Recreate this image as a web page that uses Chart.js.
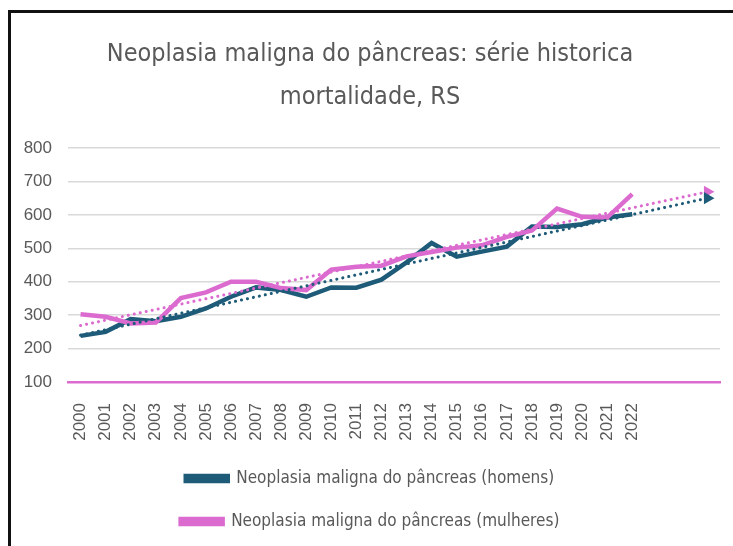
<!DOCTYPE html>
<html>
<head>
<meta charset="utf-8">
<script src="https://cdn.jsdelivr.net/npm/chart.js@4.4.1/dist/chart.umd.min.js"></script>
<style>
  html,body{margin:0;padding:0;background:#fff;overflow:hidden;}
  #frame{position:absolute;left:8px;top:10px;width:800px;height:600px;border:3px solid #111;box-sizing:border-box;}
  #wrap{position:absolute;left:0;top:0;width:733px;height:546px;}
</style>
</head>
<body>
<div id="frame"></div>
<div id="wrap"><canvas id="myChart"></canvas></div>
<script>
const years=['2000','2001','2002','2003','2004','2005','2006','2007','2008','2009','2010','2011','2012','2013','2014','2015','2016','2017','2018','2019','2020','2021','2022','','',''];
const homens=[238,250,288,282,295,320,355,383,375,355,383,382,406,458,516,475,490,505,565,564,572,592,602];
const mulheres=[303,295,275,278,351,368,400,400,381,375,436,445,448,476,489,502,509,534,553,619,594,592,662];
// trend line ends (2000 and 2025)
const trendHomens=[240,650];
const trendMulheres=[269,669];
const yTicks=[100,200,300,400,500,600,700,800];

const teal='#1d5b78';
const pink='#dc6bd0';
const grey='#595959';
const titleFont="'Liberation Sans Narrow','DejaVu Sans Condensed',sans-serif";

let trendData=(ends)=>{
    let d=years.map(()=>null);
    d[0]=ends[0];
    d[d.length-1]=ends[1];
    return d;
}
let lastOnly=(size)=>(c)=>c.dataIndex===years.length-1?size:0;

window.addEventListener('load',()=>{
    const ctx=document.getElementById('myChart');
    new Chart(ctx,{
      type:'line',
      data:{
        labels:years,
        datasets:[{
          label:'Neoplasia maligna do pâncreas (homens)',
          data:homens,
          borderColor:teal,
          backgroundColor:teal,
          borderWidth:4.5,
          pointRadius:0,
          tension:0,
          order:2
        },{
          label:'Neoplasia maligna do pâncreas (mulheres)',
          data:mulheres,
          borderColor:pink,
          backgroundColor:pink,
          borderWidth:4.5,
          pointRadius:0,
          tension:0,
          order:1
        },{
          label:'trend homens',
          data:trendData(trendHomens),
          borderColor:teal,
          backgroundColor:teal,
          borderWidth:3,
          borderDash:[0.1,6],
          borderCapStyle:'round',
          spanGaps:true,
          pointStyle:'triangle',
          rotation:90,
          pointRadius:lastOnly(7),
          pointBorderWidth:0,
          order:0
        },{
          label:'trend mulheres',
          data:trendData(trendMulheres),
          borderColor:pink,
          backgroundColor:pink,
          borderWidth:3,
          borderDash:[0.1,6],
          borderCapStyle:'round',
          spanGaps:true,
          pointStyle:'triangle',
          rotation:90,
          pointRadius:lastOnly(7),
          pointBorderWidth:0,
          order:0
        }]
      },
      options:{
        responsive:true,
        maintainAspectRatio:false,
        animation:false,
        layout:{padding:{left:20,right:13,top:0,bottom:6}},
        plugins:{
          title:{
            display:true,
            text:['Neoplasia maligna do pâncreas: série historica','mortalidade, RS'],
            color:grey,
            font:{family:titleFont,size:25,weight:'normal',lineHeight:1.72},
            padding:{top:33,bottom:29}
          },
          legend:{
            position:'bottom',
            labels:{
              filter:(item)=>item.datasetIndex<2,
              sort:(a,b)=>a.datasetIndex-b.datasetIndex,
              color:grey,
              boxWidth:42,
              boxHeight:5,
              padding:26,
              font:{family:titleFont,size:17}
            }
          },
          tooltip:{enabled:false}
        },
        scales:{
          y:{
            min:100,
            max:800,
            afterBuildTicks:(s)=>{s.ticks=yTicks.map(v=>({value:v}));},
            afterFit:(s)=>{s.width=48;},
            ticks:{color:grey,padding:16,font:{family:"'Liberation Sans',Arial,sans-serif",size:17}},
            grid:{color:(c)=>c.tick&&c.tick.value===100?'rgba(0,0,0,0)':'#d9d9d9',lineWidth:1.5,drawTicks:false},
            border:{display:false}
          },
          x:{
            offset:true,
            afterFit:(s)=>{s.height=62;s.paddingRight=0;s.paddingLeft=0;},
            ticks:{color:grey,autoSkip:false,maxRotation:90,minRotation:90,padding:21,font:{family:"'Liberation Sans',Arial,sans-serif",size:17}},
            grid:{display:false,drawTicks:false,offset:true},
            border:{display:true,color:pink,width:2.5}
          }
        }
      }
    });
});
</script>
</body>
</html>
